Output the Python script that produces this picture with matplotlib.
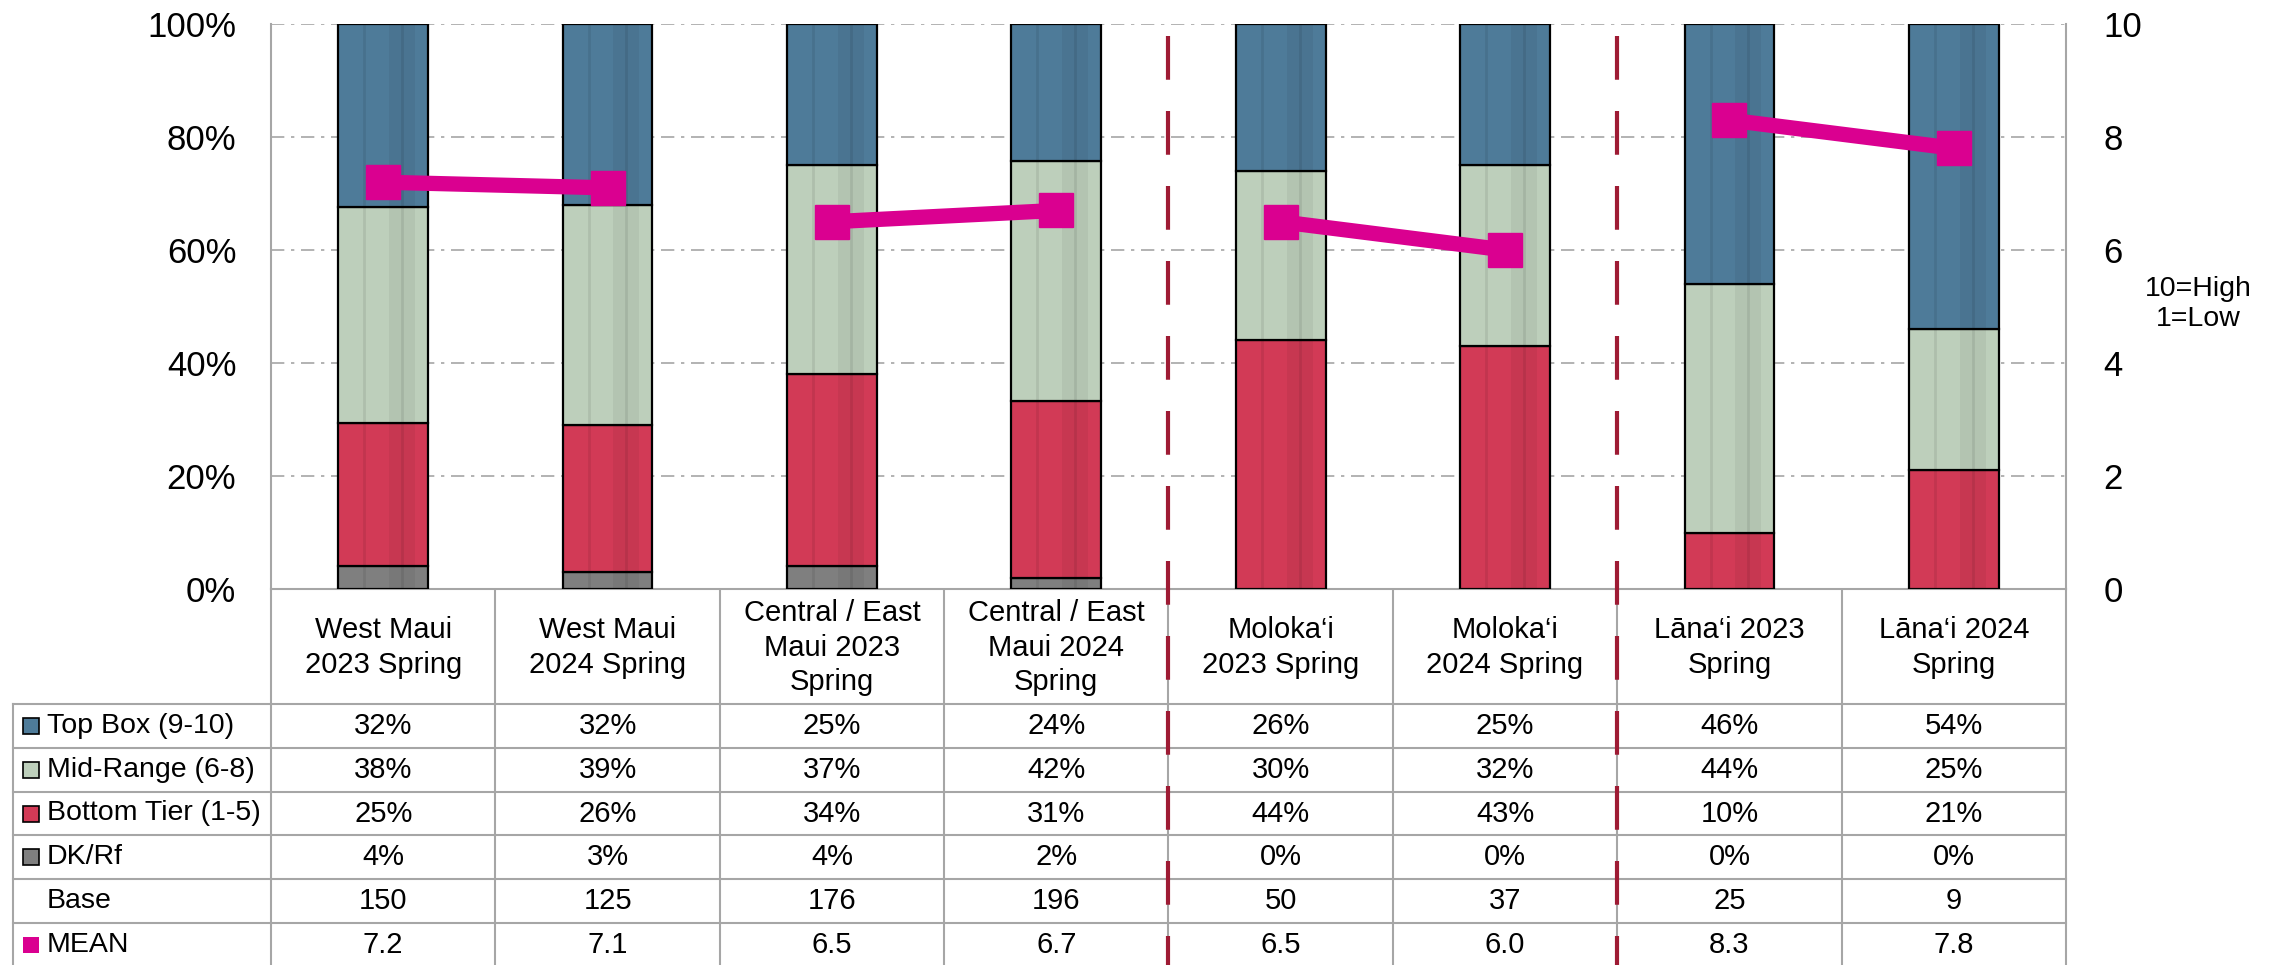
import numpy as np
import matplotlib.pyplot as plt
from matplotlib.lines import Line2D
from matplotlib.patches import Rectangle
from matplotlib.transforms import blended_transform_factory

categories = ["West Maui\n2023 Spring", "West Maui\n2024 Spring",
              "Central / East\nMaui 2023\nSpring", "Central / East\nMaui 2024\nSpring",
              "Moloka\u2018i\n2023 Spring", "Moloka\u2018i\n2024 Spring",
              "L\u0101na\u2018i 2023\nSpring", "L\u0101na\u2018i 2024\nSpring"]
top_box = [32, 32, 25, 24, 26, 25, 46, 54]
mid_range = [38, 39, 37, 42, 30, 32, 44, 25]
bottom_tier = [25, 26, 34, 31, 44, 43, 10, 21]
dk_rf = [4, 3, 4, 2, 0, 0, 0, 0]
base = [150, 125, 176, 196, 50, 37, 25, 9]
mean = [7.2, 7.1, 6.5, 6.7, 6.5, 6.0, 8.3, 7.8]
row_labels = ["Top Box (9-10)", "Mid-Range (6-8)", "Bottom Tier (1-5)", "DK/Rf", "Base", "MEAN"]

C_TOP = '#4E7B99'
C_MID = '#BDCFBB'
C_BOT = '#D23A56'
C_DK = '#7F7F7F'
C_MEAN = '#DA0090'
C_GRID = '#A6A6A6'
C_SEP = '#9E1B34'

plt.rcParams['font.family'] = ['Liberation Sans', 'DejaVu Sans']

W, H = 2279, 965
fig = plt.figure(figsize=(W / 100, H / 100), dpi=100)

# plot area in pixels
PL, PR, PT, PB = 271, 2066, 24, 589
ax = fig.add_axes([PL / W, 1 - PB / H, (PR - PL) / W, (PB - PT) / H])

x = np.arange(len(categories))
bw = 0.4
totals = np.array(top_box) + np.array(mid_range) + np.array(bottom_tier) + np.array(dk_rf)
stack = [(dk_rf, C_DK), (bottom_tier, C_BOT), (mid_range, C_MID), (top_box, C_TOP)]
bottom = np.zeros(len(x))
for vals, col in stack:
    share = np.array(vals) / totals * 100
    ax.bar(x, share, bw, bottom=bottom, color=col, edgecolor='black',
           linewidth=1.6, zorder=3)
    bottom += share

# faint vertical shading inside the bars
for xi in x:
    ax.bar(xi + bw * 0.21, 100, bw * 0.29, color='black', alpha=0.05,
           linewidth=0, zorder=3.5)
    for f in (-0.21, 0.21):
        ax.plot([xi + bw * f, xi + bw * f], [0.3, 99.7], color='black',
                alpha=0.08, lw=2, zorder=3.5)

ax.set_xlim(-0.5, len(x) - 0.5)
ax.set_ylim(0, 100)
ax.set_xticks([])
ax.set_yticks(np.arange(0, 101, 20))
ax.set_yticklabels(['%d%%' % v for v in range(0, 101, 20)])
ax.tick_params(axis='y', length=0, pad=25, labelsize=25)
ax.yaxis.grid(True, linestyle=(0, (8, 4, 2, 4)), color=C_GRID, linewidth=1.2)
ax.set_axisbelow(True)
ax.spines['top'].set_visible(False)
for s in ('left', 'right', 'bottom'):
    ax.spines[s].set_color(C_GRID)
    ax.spines[s].set_linewidth(1.5)

ax2 = ax.twinx()
ax2.set_ylim(0, 10)
ax2.set_yticks(np.arange(0, 11, 2))
ax2.tick_params(axis='y', length=0, pad=27, labelsize=25)
for s in ax2.spines.values():
    s.set_visible(False)
for i in range(0, len(x), 2):
    ax2.plot(x[i:i + 2], mean[i:i + 2], color=C_MEAN, lw=11, marker='s',
             markersize=25, solid_capstyle='butt', zorder=5)

fig.text(2198 / W, 1 - 304 / H, "10=High\n1=Low", ha='center', va='center',
         fontsize=20.5, linespacing=1.15)

# data table below the chart
tax = fig.add_axes([0, 0, 1, 1], zorder=-1)
tax.set_xlim(0, W)
tax.set_ylim(H, 0)
tax.axis('off')
tr = blended_transform_factory(ax.transData, tax.transData)

row_top = 704
row_h = 43.8
n_rows = len(row_labels)
lw_t = 1.5
for r in range(n_rows):
    y = row_top + r * row_h
    tax.plot([13, PR], [y, y], color=C_GRID, lw=lw_t)
tax.plot([13, 13], [row_top, H], color=C_GRID, lw=lw_t)
for b in np.arange(-0.5, len(x), 1.0):
    tax.plot([b, b], [PB, H], color=C_GRID, lw=lw_t, transform=tr)

for i, cat in enumerate(categories):
    tax.text(i, (PB + row_top) / 2 + 1, cat, ha='center', va='center', fontsize=21,
             linespacing=1.28, transform=tr)

key_colors = [C_TOP, C_MID, C_BOT, C_DK, None, C_MEAN]
rows = [['%d%%' % v for v in top_box], ['%d%%' % v for v in mid_range],
        ['%d%%' % v for v in bottom_tier], ['%d%%' % v for v in dk_rf],
        ['%d' % v for v in base], ['%.1f' % v for v in mean]]
for r, (lab, kc, vals) in enumerate(zip(row_labels, key_colors, rows)):
    yc = row_top + (r + 0.5) * row_h
    if kc is not None:
        ec = 'none' if lab == 'MEAN' else 'black'
        tax.add_patch(Rectangle((23, yc - 8), 16, 16, facecolor=kc,
                                edgecolor=ec, lw=1.2))
    tax.text(47, yc, lab, ha='left', va='center', fontsize=20.5)
    for i, v in enumerate(vals):
        tax.text(i, yc, v, ha='center', va='center', fontsize=21, transform=tr)

# red dashed separators between regions
trf = blended_transform_factory(ax.transData, fig.transFigure)
for b in (3.5, 5.5):
    fig.add_artist(Line2D([b, b], [1 - (PT + 12) / H, 0], transform=trf, color=C_SEP,
                          lw=3, linestyle=(0, (10.5, 7.5)), zorder=10))

fig.savefig('out.png', dpi=100)
